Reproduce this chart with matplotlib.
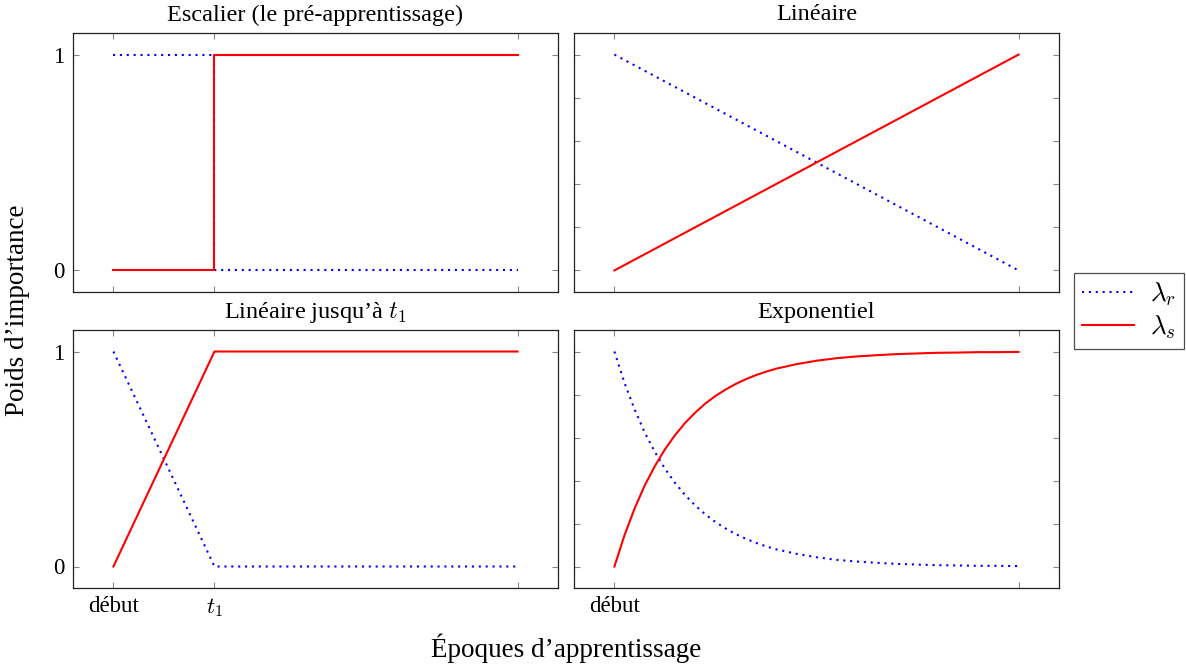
import matplotlib
matplotlib.use("Agg")
import matplotlib.pyplot as plt

plt.rcParams['font.family'] = ['Liberation Serif', 'DejaVu Serif']
plt.rcParams['mathtext.fontset'] = 'cm'

# ---- data ----
end_x = 100
t1 = 25
tick_labels_left = ["début", "$t_1$"]
tick_labels_right = ["début"]

# Escalier
step_x = [0, 25, 100]
step_r = [1, 0, 0]
step_s = [0, 1, 1]

# Linéaire
lin_x = [0, 100]
lin_r = [1, 0]
lin_s = [0, 1]

# Linéaire jusqu'à t1
lt1_x = [0, 25, 100]
lt1_r = [1, 0, 0]
lt1_s = [0, 1, 1]

# Exponentiel
exp_x = [0, 2.5, 5, 7.5, 10, 12.5, 15, 17.5, 20, 22.5, 25, 27.5, 30, 32.5, 35,
         37.5, 40, 45, 50, 55, 60, 65, 70, 75, 80, 85, 90, 95, 100]
exp_r = [1.000, 0.854, 0.730, 0.623, 0.533, 0.455, 0.389, 0.332, 0.284, 0.242,
         0.207, 0.177, 0.151, 0.129, 0.110, 0.094, 0.080, 0.059, 0.043, 0.031,
         0.023, 0.017, 0.012, 0.009, 0.006, 0.005, 0.003, 0.003, 0.002]
exp_s = [0.000, 0.146, 0.270, 0.377, 0.467, 0.545, 0.611, 0.668, 0.716, 0.758,
         0.793, 0.823, 0.849, 0.871, 0.890, 0.906, 0.920, 0.941, 0.957, 0.969,
         0.977, 0.983, 0.988, 0.991, 0.994, 0.995, 0.997, 0.997, 0.998]

titles = ["Escalier (le pré-apprentissage)", "Linéaire",
          "Linéaire jusqu’à $t_1$", "Exponentiel"]

W, H = 1186, 668
fig = plt.figure(figsize=(W / 100, H / 100), dpi=100)

def rect(x0, y0, x1, y1):
    return [x0 / W, 1 - y1 / H, (x1 - x0) / W, (y1 - y0) / H]

ax_tl = fig.add_axes(rect(73, 33, 558, 292))
ax_tr = fig.add_axes(rect(574, 33, 1059, 292))
ax_bl = fig.add_axes(rect(73, 330, 558, 588))
ax_br = fig.add_axes(rect(574, 330, 1059, 588))

blue = '#0000ff'
red = '#ff0000'
dot_kw = dict(color=blue, lw=1.5, linestyle=(0, (1, 2.3)), dash_capstyle='butt')
red_kw = dict(color=red, lw=1.5)

ax_tl.step(step_x, step_r, where='post', label=r'$\lambda_r$', **dot_kw)
ax_tl.step(step_x, step_s, where='post', label=r'$\lambda_s$', **red_kw)
ax_tr.plot(lin_x, lin_r, **dot_kw)
ax_tr.plot(lin_x, lin_s, **red_kw)
ax_bl.plot(lt1_x, lt1_r, **dot_kw)
ax_bl.plot(lt1_x, lt1_s, **red_kw)
ax_br.plot(exp_x, exp_r, **dot_kw)
ax_br.plot(exp_x, exp_s, **red_kw)

fs_title = 17.5
fs_tick = 16.5
for ax, title in zip([ax_tl, ax_tr, ax_bl, ax_br], titles):
    ax.set_xlim(-10, 110)
    ax.set_ylim(-0.1, 1.1)
    ax.set_title(title, fontsize=fs_title, pad=9)
    for s in ax.spines.values():
        s.set_linewidth(0.9)
        s.set_color('#222222')
    ax.tick_params(direction='in', top=True, right=True, length=4,
                   width=0.8, color='#888888', labelsize=fs_tick, pad=6)

for ax in [ax_tl, ax_bl]:
    ax.set_xticks([0, t1, end_x])
    ax.set_yticks([0, 1])
    ax.set_yticklabels(["0", "1"])
for ax in [ax_tr, ax_br]:
    ax.set_xticks([0, end_x])
    ax.set_yticks([0, 0.2, 0.4, 0.6, 0.8, 1.0])
    ax.set_yticklabels([])

ax_tl.set_xticklabels([])
ax_tr.set_xticklabels([])
ax_bl.set_xticklabels(tick_labels_left + [""])
ax_br.set_xticklabels(tick_labels_right + [""])

fig.text(18 / W, 1 - 310 / H, "Poids d’importance", rotation=90,
         ha='center', va='center', fontsize=19.5)
fig.text(566 / W, 1 - 648 / H, "Époques d’apprentissage",
         ha='center', va='center', fontsize=19.5)

handles, labels = ax_tl.get_legend_handles_labels()
leg = fig.legend(handles, labels, loc='center left',
                 bbox_to_anchor=(1074 / W, 1 - 311 / H), fontsize=19.5,
                 frameon=True, fancybox=False, edgecolor='#222222',
                 handlelength=1.9, borderpad=0.3, labelspacing=0.2,
                 handletextpad=0.6, borderaxespad=0)
leg.get_frame().set_linewidth(0.9)

fig.savefig("out.png", dpi=100)
